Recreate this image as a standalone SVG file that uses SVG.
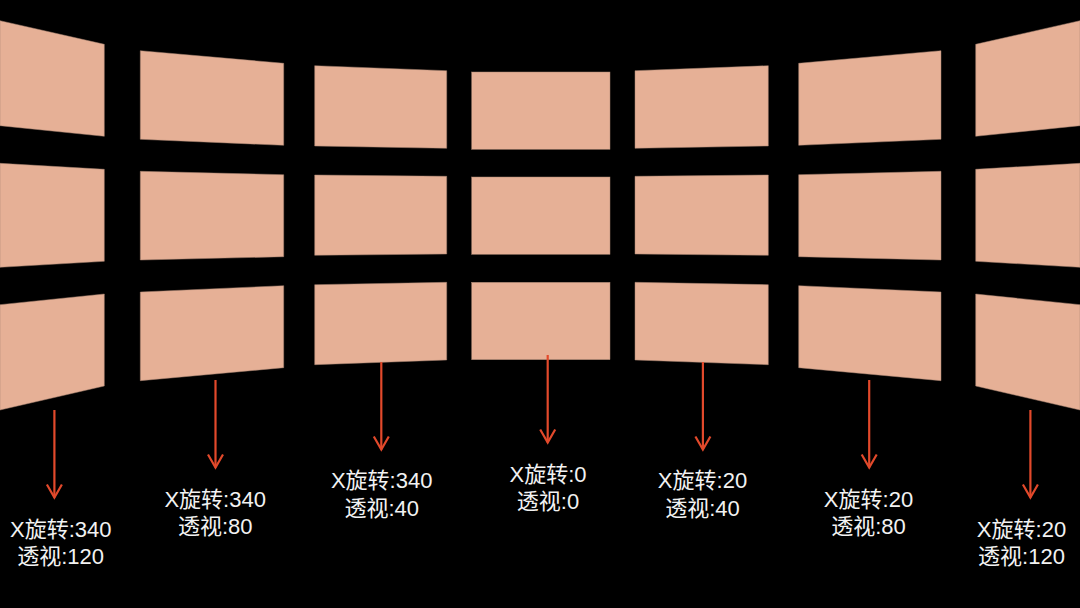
<svg xmlns="http://www.w3.org/2000/svg" width="1080" height="608" viewBox="0 0 1080 608">
<style>
.p{fill:#E6B096;stroke:#a88572;stroke-width:0.5}
.c{stroke:#E2492B;stroke-width:2.2;fill:none}
.t{font-family:"Liberation Sans","Noto Sans CJK SC",sans-serif;font-size:22px;fill:#f2f2f2;text-anchor:middle}
</style>
<defs>
<marker id="ah" markerUnits="userSpaceOnUse" markerWidth="20" markerHeight="20" viewBox="-16 -10 20 20" refX="0" refY="0" orient="auto" overflow="visible">
<path d="M-13,-7.5 L0,0 L-13,7.5" fill="none" stroke="#E2492B" stroke-width="2.2" stroke-linejoin="miter"/>
</marker>
</defs>
<rect width="1080" height="608" fill="#000"/>
<g id="col1">
<polygon class="p" points="0,20.7 104.3,44.3 104.3,136.3 0,125.7"/>
<polygon class="p" points="0,163.3 104.3,169.3 104.3,261.3 0,267.3"/>
<polygon class="p" points="0,304.7 104.3,294 104.3,386 0,410"/>
</g>
<g id="col2">
<polygon class="p" points="140.3,50.7 283.7,63.3 283.7,145.3 140.3,139.3"/>
<polygon class="p" points="140.3,171.3 283.7,174.7 283.7,256.7 140.3,260"/>
<polygon class="p" points="140.3,292 283.7,285.7 283.7,367.7 140.3,380.7"/>
</g>
<g id="col3">
<polygon class="p" points="314.7,65.7 446.7,70.7 446.7,148.3 314.7,146"/>
<polygon class="p" points="314.7,175 446.7,176.3 446.7,254 314.7,255.3"/>
<polygon class="p" points="314.7,284.7 446.7,282.3 446.7,360 314.7,364.7"/>
</g>
<g id="col4">
<rect class="p" x="471.7" y="72" width="138.3" height="77.3"/>
<rect class="p" x="471.7" y="177" width="138.3" height="77.3"/>
<rect class="p" x="471.7" y="282.3" width="138.3" height="77.4"/>
</g>
<g id="col5">
<polygon class="p" points="635,70.7 768.3,65.7 768.3,146 635,148.3"/>
<polygon class="p" points="635,176.3 768.3,175 768.3,255.3 635,254"/>
<polygon class="p" points="635,282.3 768.3,284.7 768.3,364.7 635,360"/>
</g>
<g id="col6">
<polygon class="p" points="798.7,63.3 941,50.7 941,139.3 798.7,145.3"/>
<polygon class="p" points="798.7,174.7 941,171.3 941,260 798.7,256.7"/>
<polygon class="p" points="798.7,285.7 941,292 941,380.7 798.7,367.7"/>
</g>
<g id="col7">
<polygon class="p" points="975.7,44.3 1080,20.7 1080,125.7 975.7,136.3"/>
<polygon class="p" points="975.7,169.3 1080,163.3 1080,267.3 975.7,261.3"/>
<polygon class="p" points="975.7,294 1080,304.7 1080,410 975.7,386"/>
</g>
<g id="connectors">
<line class="c" x1="54.4" y1="410" x2="54.4" y2="497.5" marker-end="url(#ah)"/>
<line class="c" x1="215.5" y1="380" x2="215.5" y2="467.5" marker-end="url(#ah)"/>
<line class="c" x1="381.3" y1="362" x2="381.3" y2="449.5" marker-end="url(#ah)"/>
<line class="c" x1="547.7" y1="355" x2="547.7" y2="442.5" marker-end="url(#ah)"/>
<line class="c" x1="702.9" y1="362" x2="702.9" y2="449.5" marker-end="url(#ah)"/>
<line class="c" x1="869.2" y1="380" x2="869.2" y2="467.5" marker-end="url(#ah)"/>
<line class="c" x1="1030.4" y1="410" x2="1030.4" y2="497.5" marker-end="url(#ah)"/>
</g>
<g id="label1"><text class="t" x="60.8" y="536.7">X旋转:340</text><text class="t" x="60.6" y="564">透视:120</text></g>
<g id="label2"><text class="t" x="215.2" y="506.7">X旋转:340</text><text class="t" x="215.2" y="534">透视:80</text></g>
<g id="label3"><text class="t" x="381.7" y="488.3">X旋转:340</text><text class="t" x="381.7" y="515.7">透视:40</text></g>
<g id="label4"><text class="t" x="548" y="481.7">X旋转:0</text><text class="t" x="548" y="509">透视:0</text></g>
<g id="label5"><text class="t" x="702.5" y="488.3">X旋转:20</text><text class="t" x="702.5" y="515.7">透视:40</text></g>
<g id="label6"><text class="t" x="868.5" y="506.7">X旋转:20</text><text class="t" x="868.5" y="534">透视:80</text></g>
<g id="label7"><text class="t" x="1021.5" y="536.7">X旋转:20</text><text class="t" x="1021.5" y="564">透视:120</text></g>
</svg>
